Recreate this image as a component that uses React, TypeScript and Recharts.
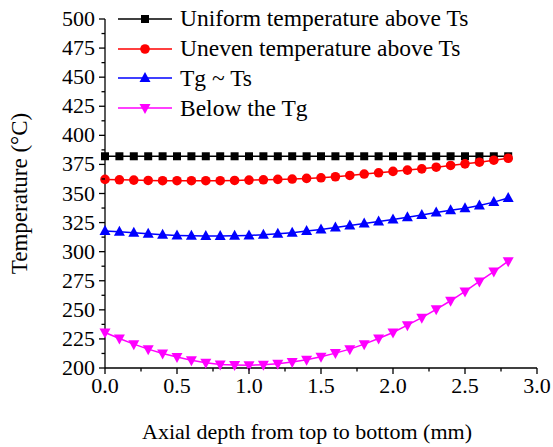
import React from 'react'
import { LineChart, Line, XAxis, YAxis, Label } from 'recharts'

// depth along the axis (mm)
const depth = [0, 0.1, 0.2, 0.3, 0.4, 0.5, 0.6, 0.7, 0.8, 0.9, 1.0, 1.1, 1.2, 1.3, 1.4, 1.5, 1.6, 1.7, 1.8, 1.9, 2.0, 2.1, 2.2, 2.3, 2.4, 2.5, 2.6, 2.7, 2.8]

const uniformAboveTs = [382, 382, 382, 382, 382, 382, 382, 382, 382, 382, 382, 382, 382, 382, 382, 382, 382, 382, 382, 382, 382, 382, 382, 382, 382, 382, 382, 382, 382]
const unevenAboveTs = [362.1, 361.8, 361.5, 361.2, 361.0, 361.0, 361.0, 361.0, 361.0, 361.2, 361.5, 361.8, 362.1, 362.4, 363.0, 363.5, 364.4, 365.5, 366.7, 367.8, 369.0, 370.1, 371.2, 372.6, 374.1, 375.5, 376.9, 378.6, 380.3]
const tgToTs = [317.7, 317.1, 316.2, 315.4, 314.5, 314.0, 313.7, 313.4, 313.4, 313.7, 314.0, 314.5, 315.4, 316.2, 317.7, 319.1, 320.8, 322.5, 324.2, 325.9, 327.6, 329.6, 331.6, 333.6, 335.6, 337.4, 339.6, 342.6, 346.2]
const belowTg = [230.5, 225.4, 220.5, 216.2, 212.5, 209.4, 206.6, 204.6, 203.1, 202.6, 202.3, 202.9, 203.7, 205.1, 207.1, 209.7, 212.8, 216.2, 220.5, 225.4, 230.5, 236.8, 243.3, 250.4, 257.8, 265.8, 274.4, 282.9, 291.8]

const xTicks = [0, 0.25, 0.5, 0.75, 1, 1.25, 1.5, 1.75, 2, 2.25, 2.5, 2.75, 3]
const yTicks = [200, 212.5, 225, 237.5, 250, 262.5, 275, 287.5, 300, 312.5, 325, 337.5, 350, 362.5, 375, 387.5, 400, 412.5, 425, 437.5, 450, 462.5, 475, 487.5, 500]

const FONT = 'Liberation Serif, Times New Roman, Times, serif'

const data = depth.map((d, i) => ({
    depth: d,
    uniform: uniformAboveTs[i],
    uneven: unevenAboveTs[i],
    tgts: tgToTs[i],
    below: belowTg[i],
}))

type Shape = 'square' | 'circle' | 'up' | 'down'

function Marker({ cx, cy, shape, color }: { cx: number; cy: number; shape: Shape; color: string }) {
    if (shape === 'square') return <rect x={cx - 4} y={cy - 4} width={8} height={8} fill={color} />
    if (shape === 'circle') return <circle cx={cx} cy={cy} r={4.8} fill={color} />
    if (shape === 'up')
        return <polygon points={`${cx},${cy - 6} ${cx - 5.5},${cy + 4} ${cx + 5.5},${cy + 4}`} fill={color} />
    return <polygon points={`${cx},${cy + 6} ${cx - 5.5},${cy - 4} ${cx + 5.5},${cy - 4}`} fill={color} />
}

const SERIES: { key: string; name: string; color: string; shape: Shape }[] = [
    { key: 'uniform', name: 'Uniform temperature above Ts', color: '#000000', shape: 'square' },
    { key: 'uneven', name: 'Uneven temperature above Ts', color: '#ff0000', shape: 'circle' },
    { key: 'tgts', name: 'Tg ~ Ts', color: '#0000ff', shape: 'up' },
    { key: 'below', name: 'Below the Tg', color: '#ff00ff', shape: 'down' },
]

const isMajor = (v: number, step: number) => Math.abs(v / step - Math.round(v / step)) < 1e-6

function XTick({ x, y, payload }: any) {
    const v = payload.value as number
    const major = isMajor(v, 0.5)
    return (
        <g>
            <line x1={x} x2={x} y1={y} y2={y + (major ? 6 : 3.5)} stroke="#000" strokeWidth={1.3} />
            {major && (
                <text x={x} y={y + 25} textAnchor="middle" style={{ fontFamily: FONT }} fontSize={22} fill="#000">
                    {v.toFixed(1)}
                </text>
            )}
        </g>
    )
}

function YTick({ x, y, payload }: any) {
    const v = payload.value as number
    const major = isMajor(v, 25)
    return (
        <g>
            <line x1={x} x2={x - (major ? 6 : 3.5)} y1={y} y2={y} stroke="#000" strokeWidth={1.3} />
            {major && (
                <text x={x - 10} y={y + 7} textAnchor="end" style={{ fontFamily: FONT }} fontSize={22} fill="#000">
                    {v}
                </text>
            )}
        </g>
    )
}

// legend sits over the chart's top-left corner, like in the figure
function LegendBox() {
    return (
        <div style={{ position: 'absolute', left: 118, top: 4, fontFamily: FONT, fontSize: 23.5, color: '#000' }}>
            {SERIES.map((s) => (
                <div key={s.key} style={{ display: 'flex', alignItems: 'center', height: 29.8 }}>
                    <svg width={62} height={16} style={{ display: 'block' }}>
                        <line x1={0} x2={54} y1={8} y2={8} stroke={s.color} strokeWidth={1.5} />
                        <Marker cx={27} cy={8} shape={s.shape} color={s.color} />
                    </svg>
                    <span style={{ lineHeight: 1, whiteSpace: 'nowrap' }}>{s.name}</span>
                </div>
            ))}
        </div>
    )
}

export default function App() {
    return (
        <div style={{ position: 'absolute', left: 0, top: 0, width: 553, height: 447, background: '#fff', fontFamily: FONT }}>
            <LineChart width={553} height={447} data={data} margin={{ top: 19, right: 16, bottom: 0, left: 0 }}>
                <XAxis
                    dataKey="depth"
                    type="number"
                    domain={[0, 3]}
                    ticks={xTicks}
                    interval={0}
                    tick={<XTick />}
                    tickLine={false}
                    tickSize={0}
                    tickMargin={0}
                    axisLine={{ stroke: '#000', strokeWidth: 1.3 }}
                    height={79}
                >
                    <Label
                        value="Axial depth from top to bottom (mm)"
                        position="insideBottom"
                        offset={8}
                        dx={-14}
                        style={{ fontFamily: FONT, fontSize: 22, fill: '#000' }}
                    />
                </XAxis>
                <YAxis
                    type="number"
                    domain={[200, 500]}
                    ticks={yTicks}
                    interval={0}
                    tick={<YTick />}
                    tickLine={false}
                    tickSize={0}
                    tickMargin={0}
                    axisLine={{ stroke: '#000', strokeWidth: 1.3 }}
                    width={105}
                >
                    <Label
                        value="Temperature (°C)"
                        angle={-90}
                        position="insideLeft"
                        offset={19}
                        style={{ fontFamily: FONT, fontSize: 23, fill: '#000', textAnchor: 'middle' }}
                    />
                </YAxis>
                {SERIES.map((s) => (
                    <Line
                        key={s.key}
                        dataKey={s.key}
                        name={s.name}
                        stroke={s.color}
                        strokeWidth={1.5}
                        isAnimationActive={false}
                        dot={(p: any) => <Marker key={`${s.key}-${p.index}`} cx={p.cx} cy={p.cy} shape={s.shape} color={s.color} />}
                        activeDot={false}
                    />
                ))}
            </LineChart>
            <LegendBox />
        </div>
    )
}
